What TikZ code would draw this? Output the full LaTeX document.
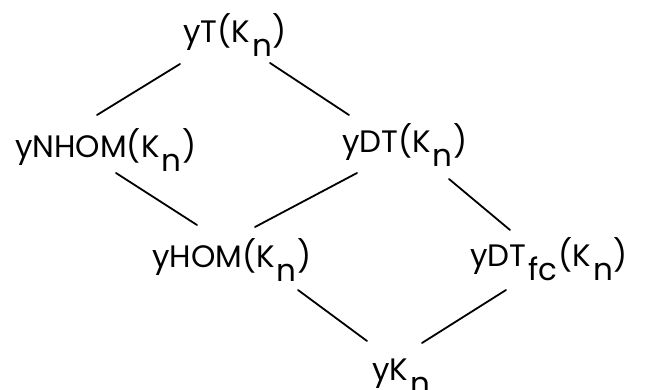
\documentclass[tikz,border=0pt]{standalone}
\usepackage{fontspec}
\setmainfont{Poppins}
\newcommand\lowsub[1]{\hspace{2pt}\raisebox{-14pt}{#1}\hspace{1pt}}
\begin{document}
\begin{tikzpicture}[x=1pt,y=-1pt,
  lbl/.style={anchor=base west, inner sep=0pt, font=\fontsize{31}{36}\selectfont},
  edge/.style={line width=1.8pt, line cap=round}]
\useasboundingbox (0,0) rectangle (657,390);
\node[lbl] (t)  at (183,43)  {yT(K\lowsub{n})};
\node[lbl] (nh) at (15,158)  {yNHOM(K\lowsub{n})};
\node[lbl] (dt) at (342,153) {yDT(K\lowsub{n})};
\node[lbl] (hm) at (152,268) {yHOM(K\lowsub{n})};
\node[lbl] (fc) at (470,267) {yDT\lowsub{fc}(K\lowsub{n})};
\node[lbl] (k)  at (372,381) {yK\lowsub{n}};
\draw[edge] ([shift={(-3,21)}]t.base west) -- ([shift={(82,-43)}]nh.base west);
\draw[edge] ([shift={(87,20)}]t.base west) -- ([shift={(7,-38)}]dt.base west);
\draw[edge] ([shift={(101,15)}]nh.base west) -- ([shift={(45,-43)}]hm.base west);
\draw[edge] ([shift={(15,20)}]dt.base west) -- ([shift={(103,-41)}]hm.base west);
\draw[edge] ([shift={(107,26)}]dt.base west) -- ([shift={(40,-37)}]fc.base west);
\draw[edge] ([shift={(146,22)}]hm.base west) -- ([shift={(-5,-40)}]k.base west);
\draw[edge] ([shift={(36,23)}]fc.base west) -- ([shift={(50,-38)}]k.base west);
\end{tikzpicture}
\end{document}
